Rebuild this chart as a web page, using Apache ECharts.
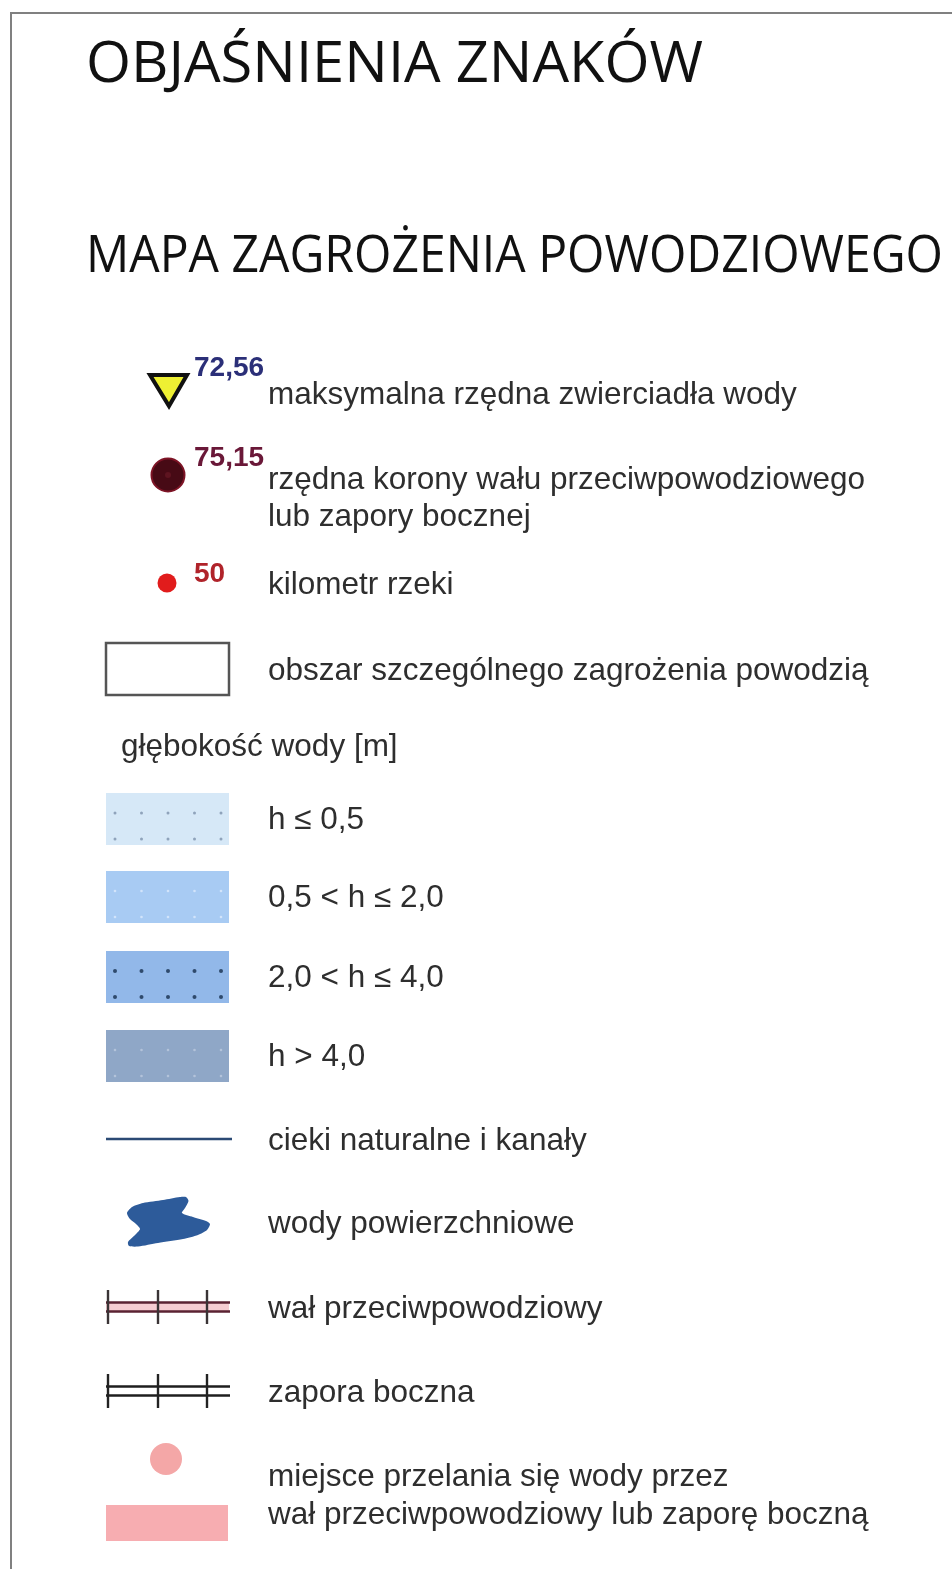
<!DOCTYPE html>
<html>
<head>
<meta charset="utf-8">
<script src="https://cdn.jsdelivr.net/npm/echarts@6/dist/echarts.min.js"></script>
<style>
html, body { margin: 0; padding: 0; background: #fff; }
#main { width: 952px; height: 1569px; }
</style>
</head>
<body>
<div id="main"></div>
<script>
// teksty i wartości legendy
var titleText = 'OBJAŚNIENIA ZNAKÓW';
var subtitleText = 'MAPA ZAGROŻENIA POWODZIOWEGO';
var pointValues = [72.56, 75.15, 50];
var pointLabels = ['maksymalna rzędna zwierciadła wody', 'rzędna korony wału przeciwpowodziowego\nlub zapory bocznej', 'kilometr rzeki'];
var zoneLabel = 'obszar szczególnego zagrożenia powodzią';
var depthTitle = 'głębokość wody [m]';
var depthClasses = ['h ≤ 0,5', '0,5 < h ≤ 2,0', '2,0 < h ≤ 4,0', 'h > 4,0'];
var lineLabels = ['cieki naturalne i kanały', 'wody powierzchniowe', 'wał przeciwpowodziowy', 'zapora boczna',
  'miejsce przelania się wody przez\nwał przeciwpowodziowy lub zaporę boczną'];

// układ (piksele = jednostki osi)
var W = 952, H = 1569;
var SYM_X = 168, TEXT_X = 268, NUM_X = 194, BOX_L = 106, BOX_R = 229;
var TEXT_COLOR = '#2e2e2e', FONT = 'Liberation Sans', FS = 31.5, TDY = 2;
var depthFill = ['#d6e8f7', '#a8cbf3', '#92b8e9', '#8fa7c7'];
var depthDot = ['#8fa3bb', '#d2e4fa', '#2f4a6c', '#b3c3da'];
var depthDotR = [1.5, 1.3, 2, 1.3];
// kształt plamy wody (względem środka symbolu)
var lakeShape = [[-41, -9], [-36, -15], [-25, -19], [-5, -22], [12, -25], [18, -25], [20.5, -21], [17, -14], [14, -9],
  [25, -5], [38, -1], [42, 2], [39, 8], [30, 13], [15, 17], [-10, 21], [-30, 24.5], [-39, 24], [-40, 20],
  [-33, 13], [-28, 7], [-32, 2], [-38, -3]];

var rows = [
  { kind: 'title', y: 82 },
  { kind: 'subtitle', y: 273 },
  { kind: 'level', y: 390, i: 0 },
  { kind: 'crest', y: 475, i: 1 },
  { kind: 'km', y: 583, i: 2 },
  { kind: 'zone', y: 669 },
  { kind: 'depthTitle', y: 744 },
  { kind: 'depth', y: 819, i: 0 },
  { kind: 'depth', y: 897, i: 1 },
  { kind: 'depth', y: 977, i: 2 },
  { kind: 'depth', y: 1056, i: 3 },
  { kind: 'river', y: 1139, i: 0 },
  { kind: 'lake', y: 1222, i: 1 },
  { kind: 'levee', y: 1307, i: 2 },
  { kind: 'dam', y: 1391, i: 3 },
  { kind: 'overflow', y: 1475, i: 4 }
];

var mctx = document.createElement('canvas').getContext('2d');
function measure(str, font) { mctx.font = font; return mctx.measureText(str).width; }

function fmt(v) { return v % 1 ? v.toFixed(2).replace('.', ',') : String(v); }

function txt(p, str, o) {
  o = o || {};
  return {
    type: 'text', x: p[0], y: p[1], scaleX: o.scaleX || 1,
    style: {
      text: str, x: 0, y: 0, fill: o.fill || TEXT_COLOR,
      fontSize: o.size || FS, fontFamily: o.family || FONT, fontWeight: o.weight || 'normal',
      align: 'left', verticalAlign: 'middle', lineHeight: o.lineHeight || (o.size || FS) * 1.2
    }
  };
}

function heading(api, str, y, size, right) {
  var font = size + 'px "Open Sans"';
  var sx = (right - 88) / measure(str, font);
  return txt(api.coord([86, y - size * 0.36]), str, { family: 'Open Sans', size: size, fill: '#111', scaleX: sx });
}

function renderItem(params, api) {
  var r = rows[api.value(0)];
  var c = api.coord([SYM_X, r.y]);
  var ch = [];
  function P(x, y) { return api.coord([x, y]); }
  var boxW = api.size([BOX_R - BOX_L, 0])[0];

  switch (r.kind) {
    case 'title':
      ch.push(heading(api, titleText, r.y + 4, 56, 705));
      break;
    case 'subtitle':
      ch.push(heading(api, subtitleText, r.y + 3, 51, 945));
      break;
    case 'level':
      ch.push({ type: 'polygon', shape: { points: [[c[0] - 18, c[1] - 15], [c[0] + 19, c[1] - 15], [c[0] + 1, c[1] + 16]] },
        style: { fill: '#eef033', stroke: '#111', lineWidth: 4, lineJoin: 'miter' } });
      ch.push(txt(P(NUM_X, r.y - 22), fmt(pointValues[r.i]), { weight: 'bold', size: 28, fill: '#2b2f78' }));
      ch.push(txt(P(TEXT_X, r.y + 3 + TDY), pointLabels[r.i]));
      break;
    case 'crest':
      ch.push({ type: 'circle', shape: { cx: c[0], cy: c[1], r: 16.5 }, style: { fill: '#470a15', stroke: '#7e1426', lineWidth: 2 } });
      ch.push({ type: 'circle', shape: { cx: c[0], cy: c[1], r: 3 }, style: { fill: '#5e1420' } });
      ch.push(txt(P(NUM_X, r.y - 17), fmt(pointValues[r.i]), { weight: 'bold', size: 28, fill: '#6a1838' }));
      ch.push(txt(P(TEXT_X, r.y + 21.5 + TDY), pointLabels[r.i], { lineHeight: 37 }));
      break;
    case 'km':
      ch.push({ type: 'circle', shape: { cx: c[0] - 1, cy: c[1], r: 9.5 }, style: { fill: '#e11c1c' } });
      ch.push(txt(P(NUM_X, r.y - 9), fmt(pointValues[r.i]), { weight: 'bold', size: 28, fill: '#b0232a' }));
      ch.push(txt(P(TEXT_X, r.y + TDY), pointLabels[r.i]));
      break;
    case 'zone':
      var zt = P(BOX_L, r.y - 26);
      ch.push({ type: 'rect', shape: { x: zt[0], y: zt[1], width: boxW, height: 52 }, style: { fill: '#fff', stroke: '#555', lineWidth: 2.5 } });
      ch.push(txt(P(TEXT_X, r.y + TDY), zoneLabel));
      break;
    case 'depthTitle':
      ch.push(txt(P(121, r.y + TDY + 1), depthTitle));
      break;
    case 'depth':
      var dt = P(BOX_L, r.y - 26);
      ch.push({ type: 'rect', shape: { x: dt[0], y: dt[1], width: boxW, height: 52 }, style: { fill: depthFill[r.i] } });
      for (var k = 0; k < 5; k++) {
        [-6, 20].forEach(function (dy) {
          var d = P(115 + k * 26.5, r.y + dy);
          ch.push({ type: 'circle', shape: { cx: d[0], cy: d[1], r: depthDotR[r.i] }, style: { fill: depthDot[r.i] } });
        });
      }
      ch.push(txt(P(TEXT_X, r.y + 1), depthClasses[r.i]));
      break;
    case 'river':
      var a = P(BOX_L, r.y), b = P(BOX_R + 3, r.y);
      ch.push({ type: 'line', shape: { x1: a[0], y1: a[1], x2: b[0], y2: b[1] }, style: { stroke: '#2b4a74', lineWidth: 2.5 } });
      ch.push(txt(P(TEXT_X, r.y + TDY), lineLabels[r.i]));
      break;
    case 'lake':
      var pts = lakeShape.map(function (q) { return [c[0] + q[0], c[1] + q[1]]; });
      ch.push({ type: 'polygon', shape: { points: pts, smooth: 0.25 }, style: { fill: '#2d5b9a' } });
      ch.push(txt(P(TEXT_X, r.y + TDY), lineLabels[r.i]));
      break;
    case 'levee':
    case 'dam':
      var levee = r.kind === 'levee';
      var l1 = P(BOX_L, r.y - 4.5);
      if (levee) {
        ch.push({ type: 'rect', shape: { x: l1[0], y: l1[1], width: boxW, height: 9 }, style: { fill: '#f6cdd2' } });
      }
      [-4.5, 4.5].forEach(function (dy) {
        var s = P(BOX_L, r.y + dy), e = P(BOX_R + 1, r.y + dy);
        ch.push({ type: 'line', shape: { x1: s[0], y1: s[1], x2: e[0], y2: e[1] }, style: { stroke: levee ? '#5a2232' : '#1e1e1e', lineWidth: 2.6 } });
      });
      [108, 158, 207].forEach(function (tx) {
        var s = P(tx, r.y - 17), e = P(tx, r.y + 17);
        ch.push({ type: 'line', shape: { x1: s[0], y1: s[1], x2: e[0], y2: e[1] }, style: { stroke: levee ? '#3a3436' : '#222', lineWidth: 2.4 } });
      });
      ch.push(txt(P(TEXT_X, r.y + TDY), lineLabels[r.i]));
      break;
    case 'overflow':
      var oc = P(SYM_X - 2, r.y - 16);
      ch.push({ type: 'circle', shape: { cx: oc[0], cy: oc[1], r: 16 }, style: { fill: '#f4a7a7' } });
      var ot = P(BOX_L, r.y + 30);
      ch.push({ type: 'rect', shape: { x: ot[0], y: ot[1], width: boxW - 1, height: 36 }, style: { fill: '#f7adb1' } });
      ch.push(txt(P(TEXT_X, r.y + 21), lineLabels[r.i], { lineHeight: 38 }));
      break;
  }
  return { type: 'group', children: ch };
}

var chart = echarts.init(document.getElementById('main'), null, { renderer: 'canvas' });
chart.setOption({
  backgroundColor: '#fff',
  animation: false,
  grid: { left: 0, right: 0, top: 0, bottom: 0 },
  xAxis: { type: 'value', min: 0, max: W, show: false },
  yAxis: { type: 'value', min: 0, max: H, inverse: true, show: false },
  graphic: [
    { type: 'line', shape: { x1: 10, y1: 13, x2: W, y2: 13 }, style: { stroke: '#808080', lineWidth: 2 } },
    { type: 'line', shape: { x1: 11, y1: 12, x2: 11, y2: H }, style: { stroke: '#808080', lineWidth: 2 } }
  ],
  series: [{
    type: 'custom',
    coordinateSystem: 'cartesian2d',
    clip: false,
    silent: true,
    renderItem: renderItem,
    data: rows.map(function (r, i) { return [i, r.y]; })
  }]
});
</script>
</body>
</html>
